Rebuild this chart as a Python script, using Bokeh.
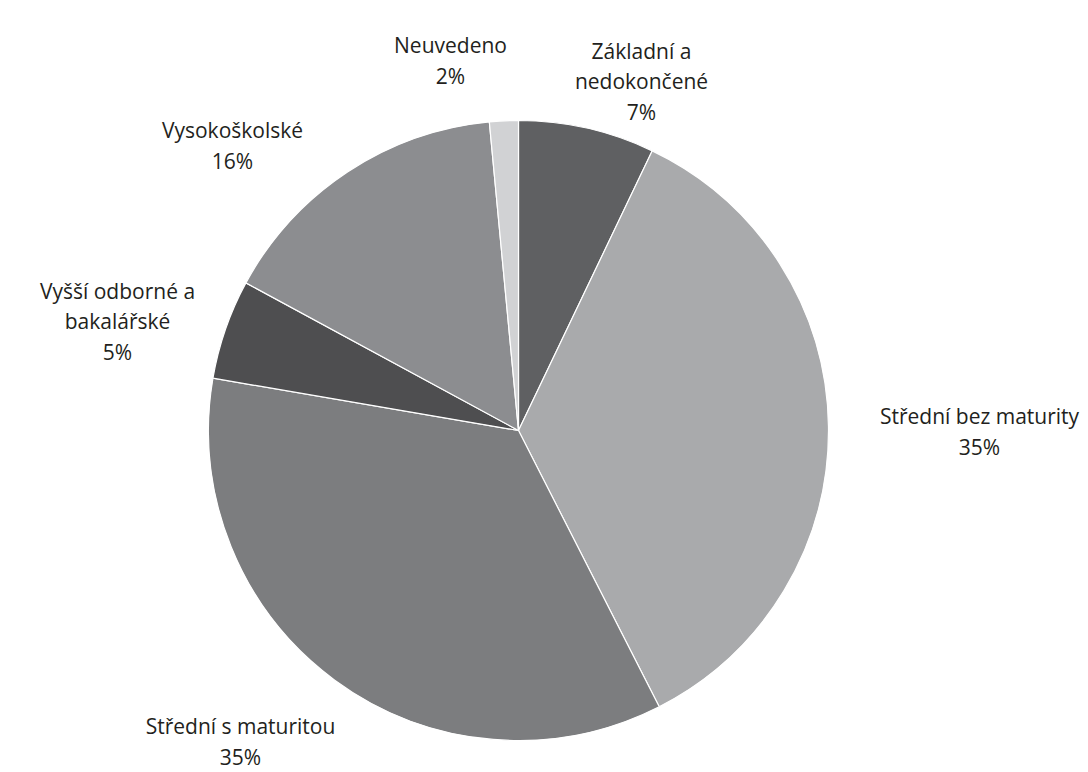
import math
from bokeh.plotting import figure
from bokeh.models import Range1d, ColumnDataSource
from bokeh.core.properties import value
from bokeh.embed import file_html
from bokeh.resources import INLINE

categories = ["Základní a\nnedokončené", "Střední bez maturity", "Střední s maturitou",
              "Vyšší odborné a\nbakalářské", "Vysokoškolské", "Neuvedeno"]
shares = [7.1, 35.4, 35.2, 5.2, 15.6, 1.5]
pct_labels = ["7%", "35%", "35%", "5%", "16%", "2%"]
colors = ["#5f6062", "#a9aaac", "#7c7d7f", "#4e4e50", "#8c8d90", "#d1d2d4"]

# layout (screen-like coordinates, y measured from top of window)
W, H = 1088, 772
cx, cy, R = 518, 430, 310
label_pos = [(641, 81), (979, 431), (240, 741), (117, 321), (232, 145), (450, 60)]

total = sum(shares)
starts, ends = [], []
acc = 0.0
for s in shares:
    a0 = math.pi / 2 - 2 * math.pi * acc / total
    acc += s
    a1 = math.pi / 2 - 2 * math.pi * acc / total
    starts.append(a0)
    ends.append(a1)

def Y(sy):
    return H - sy

p = figure(width=W, height=H, output_backend="svg", toolbar_location=None,
           x_range=Range1d(0, W), y_range=Range1d(0, H),
           min_border=0)
p.axis.visible = False
p.grid.visible = False
p.outline_line_color = None

src = ColumnDataSource(dict(start=starts, end=ends, color=colors))
p.wedge(x=cx, y=Y(cy), radius=R, radius_units="data", start_angle="start", end_angle="end",
        direction="clock", fill_color="color", line_color="white", line_width=1.2, source=src)

texts = [c + "\n" + pl for c, pl in zip(categories, pct_labels)]
lx = [pt[0] for pt in label_pos]
ly = [Y(pt[1]) for pt in label_pos]
p.text(x=lx, y=ly, text=texts, text_align="center", text_baseline="middle",
       text_font=value("Open Sans"), text_font_size="21px", text_color="#231f20",
       text_line_height=1.1)

open("out.html", "w").write(file_html(p, INLINE))
